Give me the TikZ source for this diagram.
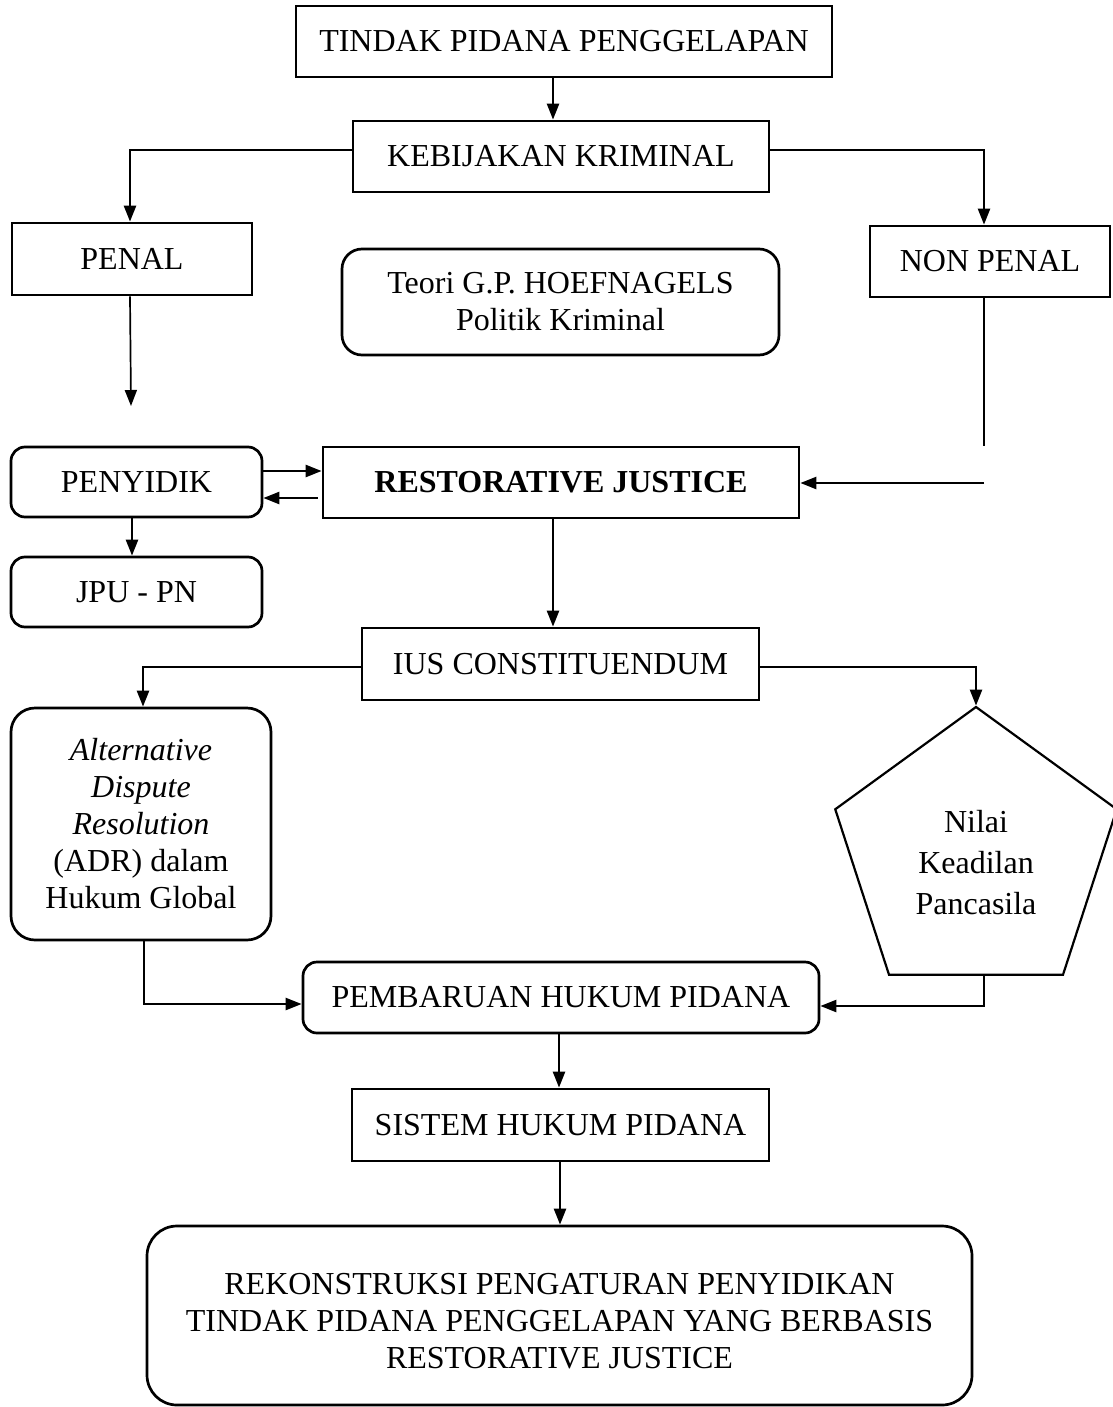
\documentclass[tikz,border=0pt]{standalone}
\usepackage{fontspec}
\setmainfont{Liberation Serif}
\usetikzlibrary{arrows.meta,shapes.geometric}
\begin{document}
\begin{tikzpicture}[x=1pt,y=-1pt,
  txt/.style={inner sep=0pt,align=center,font=\fontsize{32}{37}\selectfont},
  box/.style={txt,draw,line width=2.7pt},
  rbox/.style={box,rounded corners=14pt},
  arr/.style={line width=2.4pt,-{Triangle[length=16pt,width=12pt]}},
  thinarr/.style={line width=1.7pt,-{Triangle[length=16pt,width=12pt]}},
  thinline/.style={line width=1.7pt}]
\useasboundingbox (0,0) rectangle (1112,1407);

% nodes
\node[box,minimum width=536pt,minimum height=71pt] (t1) at (564,41.5) {TINDAK PIDANA PENGGELAPAN};
\node[box,minimum width=416pt,minimum height=71pt] (keb) at (561,156.5) {KEBIJAKAN KRIMINAL};
\node[box,minimum width=240pt,minimum height=72pt] (penal) at (132,259) {PENAL};
\node[box,minimum width=240pt,minimum height=71pt] (npenal) at (990,261.5) {NON PENAL};
\node[rbox,rounded corners=20pt,minimum width=437pt,minimum height=106pt] (teori) at (560.5,302) {Teori G.P. HOEFNAGELS\\Politik Kriminal};
\node[rbox,minimum width=251pt,minimum height=70pt] (peny) at (136.5,482) {PENYIDIK};
\node[box,minimum width=476pt,minimum height=71pt,font=\fontsize{32}{37}\selectfont\bfseries] (rj) at (561,482.5) {RESTORATIVE JUSTICE};
\node[rbox,minimum width=251pt,minimum height=70pt] (jpu) at (136.5,592) {JPU - PN};
\node[box,minimum width=397pt,minimum height=72pt] (ius) at (560.5,664) {IUS CONSTITUENDUM};
\node[rbox,rounded corners=24pt,minimum width=260pt,minimum height=232pt] (adr) at (141,824)
  {\itshape Alternative\\\itshape Dispute\\\itshape Resolution\\(ADR) dalam\\Hukum Global};
\node[draw,line width=2.2pt,regular polygon,regular polygon sides=5,minimum size=296pt,inner sep=0pt] (pent) at (976,855) {};
\node[txt,font=\fontsize{32}{41}\selectfont] (penttext) at ([yshift=-8pt]pent.center) {Nilai\\Keadilan\\Pancasila};
\node[rbox,minimum width=516pt,minimum height=71pt] (pemb) at (561,997.5) {PEMBARUAN HUKUM PIDANA};
\node[box,minimum width=417pt,minimum height=72pt] (sis) at (560.5,1125) {SISTEM HUKUM PIDANA};
\node[rbox,rounded corners=30pt,minimum width=825pt,minimum height=179pt] (rek) at (559.5,1315.5) {};
\node[txt] (rektext) at ([yshift=-6pt]rek.center)
  {REKONSTRUKSI PENGATURAN PENYIDIKAN\\TINDAK PIDANA PENGGELAPAN YANG BERBASIS\\RESTORATIVE JUSTICE};

% free ends
\coordinate (pend) at (131,406);
\coordinate (npend) at (984,446);
\coordinate (rjin) at (984,483);

% connectors
\draw[arr] (t1.south -| 553,0) -- (keb.north -| 553,0);
\draw[arr] (keb.west |- 0,150) -| (penal.north -| 130,0);
\draw[arr] (keb.east |- 0,150) -| (npenal.north -| 984,0);
\draw[thinarr] (penal.south -| 130,0) -- (pend);
\draw[thinline] (npenal.south -| 984,0) -- (npend);
\draw[arr] (rjin) -- (rj.east |- rjin);
\draw[arr] (peny.east |- 0,471) -- (rj.west |- 0,471);
\draw[arr,shorten <=4pt] (rj.west |- 0,498) -- (peny.east |- 0,498);
\draw[arr] (peny.south -| 132,0) -- (jpu.north -| 132,0);
\draw[arr] (rj.south -| 553,0) -- (ius.north -| 553,0);
\draw[arr] (ius.west |- 0,667) -| (adr.north -| 143,0);
\draw[arr] (ius.east |- 0,667) -| (pent.corner 1);
\draw[arr] (adr.south -| 144,0) |- (pemb.west |- 0,1004);
\draw[arr] (pent.side 3 -| 984,0) |- (pemb.east |- 0,1006);
\draw[arr] (pemb.south -| 559,0) -- (sis.north -| 559,0);
\draw[arr] (sis.south -| 560,0) -- (rek.north -| 560,0);
\end{tikzpicture}
\end{document}
